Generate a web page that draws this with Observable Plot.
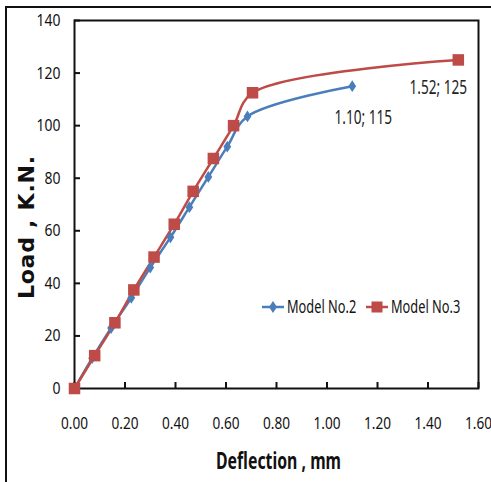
<!DOCTYPE html>
<html>
<head>
<meta charset="utf-8">
<script src="https://cdn.jsdelivr.net/npm/d3@7"></script>
<script src="https://cdn.jsdelivr.net/npm/@observablehq/plot@0.6"></script>
<style>
  html, body { margin: 0; padding: 0; background: #fff; }
  #wrap { position: relative; width: 491px; height: 482px; overflow: hidden; }
  #border { position: absolute; left: 5px; top: 6px; width: 500px; height: 500px; border-left: 2px solid #111; border-top: 2px solid #111; box-sizing: border-box; }
  #legend { position: absolute; left: 262px; top: 296px; }
</style>
</head>
<body>
<div id="wrap">
  <div id="border"></div>
  <div id="chart"></div>
  <svg id="legend" width="220" height="22"></svg>
</div>
<script>
// Model No.2 (blue diamonds)
const model2Deflection = [0, 0.07, 0.145, 0.225, 0.30, 0.38, 0.455, 0.53, 0.605, 0.685, 1.10];
const model2Load       = [0, 11.5, 23, 34.5, 46, 57.5, 69, 80.5, 92, 103.5, 115];
// Model No.3 (red squares)
const model3Deflection = [0, 0.08, 0.16, 0.235, 0.315, 0.395, 0.47, 0.55, 0.63, 0.705, 1.52];
const model3Load       = [0, 12.5, 25, 37.5, 50, 62.5, 75, 87.5, 100, 112.5, 125];

const seriesNames = ["Model No.2", "Model No.3"];
const seriesColors = ["#4A7EBB", "#BE4B48"];
const xTicks = [0, 0.2, 0.4, 0.6, 0.8, 1.0, 1.2, 1.4, 1.6];
const yTicks = [0, 20, 40, 60, 80, 100, 120, 140];
const xLabel = "Deflection , mm";
const yLabel = "Load , K.N.";

const m2 = model2Deflection.map((x, i) => ({x, y: model2Load[i]}));
const m3 = model3Deflection.map((x, i) => ({x, y: model3Load[i]}));
const last2 = [m2[m2.length - 1]];
const last3 = [m3[m3.length - 1]];
const lbl = d => `${d.x.toFixed(2)}; ${d.y}`;

const narrow = "'Noto Sans', sans-serif";

// tall Excel-like diamond
const tallDiamond = {
  draw(ctx, size) {
    const s = Math.sqrt(size);
    const w = s * 0.4, h = s * 0.6;
    ctx.moveTo(0, -h); ctx.lineTo(w, 0); ctx.lineTo(0, h); ctx.lineTo(-w, 0); ctx.closePath();
  }
};

const chart = Plot.plot({
  width: 491,
  height: 482,
  marginLeft: 74,
  marginRight: 13,
  marginTop: 20,
  marginBottom: 94,
  style: { fontFamily: narrow, fontSize: "17px", color: "#111", background: "transparent" },
  x: { domain: [0, 1.6] },
  y: { domain: [0, 140] },
  marks: [
    Plot.frame({ stroke: "#111", strokeWidth: 2 }),
    Plot.axisX({ ticks: xTicks, tickFormat: d3.format(".2f"), tickSize: -6, tickPadding: 34, strokeWidth: 2, label: null, fontSize: 17, className: "sq80" }),
    Plot.axisY({ ticks: yTicks, tickSize: -6, tickPadding: 20, strokeWidth: 2, label: null, fontSize: 17, className: "sq82" }),
    Plot.line(m2, { x: "x", y: "y", stroke: seriesColors[0], strokeWidth: 2.5, curve: "catmull-rom" }),
    Plot.line(m3, { x: "x", y: "y", stroke: seriesColors[1], strokeWidth: 2.5, curve: "catmull-rom" }),
    Plot.dot(m2, { x: "x", y: "y", symbol: tallDiamond, r: 5.5, fill: seriesColors[0] }),
    Plot.dot(m3, { x: "x", y: "y", symbol: "square", r: 6.5, fill: seriesColors[1] }),
    Plot.text(last2, { x: "x", y: "y", text: lbl, dx: 11, dy: 31, fontSize: 20, fill: "#222", className: "sq68" }),
    Plot.text(last3, { x: "x", y: "y", text: lbl, dx: -20, dy: 28, fontSize: 20, fill: "#222", className: "sq68" }),
    Plot.text([xLabel], { frameAnchor: "bottom", textAnchor: "middle", dx: 2, dy: 80, text: d => d, fontSize: 24, fontWeight: "bold", fill: "#111", className: "xlab" }),
    Plot.text([yLabel], { frameAnchor: "left", textAnchor: "middle", dx: -48, dy: 23, rotate: -90, text: d => d, fontSize: 22, fontWeight: "bold", fontFamily: "'DejaVu Sans', sans-serif", fill: "#111", className: "ylab" })
  ]
});
document.getElementById("chart").appendChild(chart);

// narrow the text horizontally to mimic the condensed fonts of the original
function squish(sel, factor) {
  chart.querySelectorAll(sel).forEach(t => {
    const w = t.getComputedTextLength();
    t.setAttribute("textLength", (w * factor).toFixed(1));
    t.setAttribute("lengthAdjust", "spacingAndGlyphs");
  });
}
function fitTo(sel, width, adjust) {
  chart.querySelectorAll(sel).forEach(t => {
    t.setAttribute("textLength", width);
    t.setAttribute("lengthAdjust", adjust);
  });
}
squish(".sq80 text", 0.80);
squish(".sq82 text", 0.82);
squish(".sq68 text", 0.68);
fitTo(".xlab text", 125, "spacingAndGlyphs");
fitTo(".ylab text", 143, "spacing");

// legend
const leg = d3.select("#legend");
const legX = [0, 104];
const markerShapes = [
  g => g.append("path").attr("d", "M11,5 L15,11 L11,17 L7,11 Z"),
  g => g.append("rect").attr("x", 5.5).attr("y", 5.5).attr("width", 11).attr("height", 11)
];
seriesNames.forEach((name, i) => {
  const g = leg.append("g").attr("transform", `translate(${legX[i]},0)`);
  g.append("line").attr("x1", 0).attr("x2", 22).attr("y1", 11).attr("y2", 11)
    .attr("stroke", seriesColors[i]).attr("stroke-width", 2.5);
  markerShapes[i](g.append("g").attr("fill", seriesColors[i]));
  const t = g.append("text").attr("x", 25).attr("y", 17)
    .attr("font-family", narrow).attr("font-size", 18).attr("fill", "#111").text(name);
  const w = t.node().getComputedTextLength();
  t.attr("textLength", (w * 0.71).toFixed(1)).attr("lengthAdjust", "spacingAndGlyphs");
});
</script>
</body>
</html>
